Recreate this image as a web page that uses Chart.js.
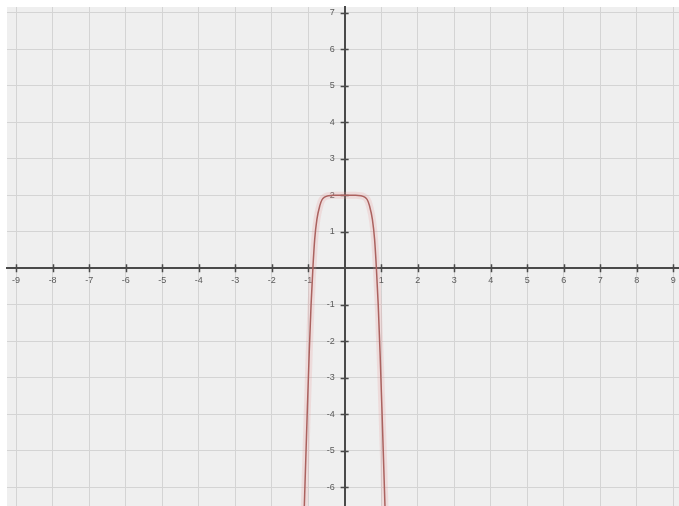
<!DOCTYPE html>
<html>
<head>
<meta charset="utf-8">
<script src="https://cdn.jsdelivr.net/npm/chart.js@4/dist/chart.umd.min.js"></script>
<style>
  html, body { margin: 0; padding: 0; background: #fff; }
  #graph { display: block; }
</style>
</head>
<body>
<canvas id="graph" width="679" height="506"></canvas>
<script>
// points
var curveX = [-1.12, -1.07, -1.02, -0.97, -0.92, -0.87, -0.82, -0.76, -0.68, -0.62, -0.55, -0.45, -0.3, 0,
              0.3, 0.45, 0.55, 0.62, 0.68, 0.76, 0.82, 0.87, 0.92, 0.97, 1.02, 1.07, 1.12];
var curveY = [-7.0, -5.4, -3.8, -2.3, -1.0, 0, 0.8, 1.34, 1.72, 1.88, 1.95, 1.99, 2, 2,
              2, 1.99, 1.95, 1.88, 1.72, 1.34, 0.8, 0, -1.0, -2.3, -3.8, -5.4, -7.0];
var xTicks = [-9, -8, -7, -6, -5, -4, -3, -2, -1, 0, 1, 2, 3, 4, 5, 6, 7, 8, 9];
var yTicks = [-6, -5, -4, -3, -2, -1, 0, 1, 2, 3, 4, 5, 6, 7];

var points = curveX.map(function (x, i) { return {x: x, y: curveY[i]}; });

var paper = {
    id: 'paper',
    beforeDraw: function (chart) {
        var c = chart.ctx, a = chart.chartArea;
        c.save();
        c.fillStyle = '#efefef';
        c.fillRect(a.left, a.top, a.right - a.left, a.bottom - a.top);
        c.restore();
    },
    beforeDatasetsDraw: function (chart) {
        var c = chart.ctx, xs = chart.scales.x, ys = chart.scales.y;
        var x0 = xs.getPixelForValue(0), y0 = ys.getPixelForValue(0);
        c.save();
        c.strokeStyle = '#4a4a4a';
        c.lineWidth = 1.5;
        c.beginPath();
        xTicks.forEach(function (v) {
            if (v === 0) return;
            var px = Math.round(xs.getPixelForValue(v)) + 0.5;
            c.moveTo(px, y0 - 4); c.lineTo(px, y0 + 4);
        });
        yTicks.forEach(function (v) {
            if (v === 0) return;
            var py = Math.round(ys.getPixelForValue(v)) + 0.5;
            c.moveTo(x0 - 4, py); c.lineTo(x0 + 4, py);
        });
        c.stroke();
        c.restore();
    }
};

// axes sit on the origin, so they should not eat into the plot area
function noSpace(s) {
    if (s.isHorizontal()) s.height = 0; else s.width = 0;
    s.paddingTop = s.paddingBottom = s.paddingLeft = s.paddingRight = 0;
}

var ctx = document.getElementById('graph');
var myChart = new Chart(ctx, {
    type: 'scatter',
    data: {
        datasets: [{
            data: points,
            showLine: true,
            borderColor: 'rgba(232, 150, 150, 0.22)',
            borderWidth: 7,
            pointRadius: 0,
            cubicInterpolationMode: 'monotone'
        }, {
            data: points,
            showLine: true,
            borderColor: '#9a5450',
            borderWidth: 1.5,
            pointRadius: 0,
            cubicInterpolationMode: 'monotone'
        }]
    },
    options: {
        responsive: false,
        animation: false,
        layout: { padding: { left: 7, top: 7, right: 0, bottom: 0 } },
        plugins: { legend: { display: false }, tooltip: { enabled: false } },
        scales: {
            x: {
                type: 'linear',
                min: -9.25,
                max: 9.16,
                position: { y: 0 },
                afterBuildTicks: function (s) { s.ticks = xTicks.map(function (v) { return {value: v}; }); },
                afterFit: noSpace,
                grid: { color: '#d4d4d4', lineWidth: 1, drawTicks: false },
                border: { color: '#4a4a4a', width: 2 },
                ticks: {
                    callback: function (v) { return v === 0 ? '' : String(v); },
                    padding: 7,
                    maxRotation: 0,
                    autoSkip: false,
                    color: '#5a5a5a',
                    font: { family: 'Liberation Sans', size: 9 }
                }
            },
            y: {
                type: 'linear',
                min: -6.51,
                max: 7.16,
                position: { x: 0 },
                afterBuildTicks: function (s) { s.ticks = yTicks.map(function (v) { return {value: v}; }); },
                afterFit: noSpace,
                grid: { color: '#d4d4d4', lineWidth: 1, drawTicks: false },
                border: { color: '#4a4a4a', width: 2 },
                ticks: {
                    // trailing spaces keep the right-aligned labels clear of the axis
                    callback: function (v) { return v === 0 ? '' : v + '    '; },
                    autoSkip: false,
                    color: '#5a5a5a',
                    font: { family: 'Liberation Sans', size: 9 }
                }
            }
        }
    },
    plugins: [paper]
});
</script>
</body>
</html>
